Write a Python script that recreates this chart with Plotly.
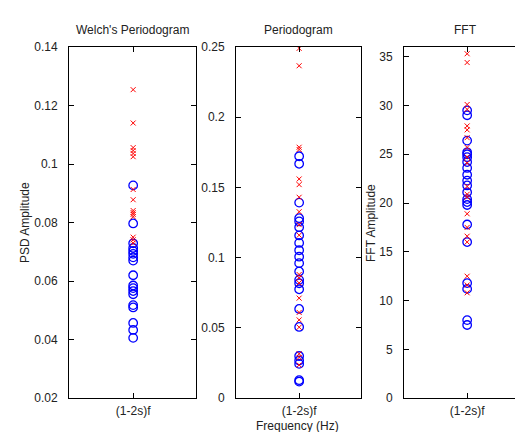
import plotly.graph_objects as go

category = ["(1-2s)f"]

# Welch's Periodogram
welch_red = [0.1254, 0.1140, 0.1056, 0.1046, 0.1036, 0.1025, 0.0913, 0.0878,
             0.0841, 0.0834, 0.0828, 0.0820, 0.0750, 0.0741, 0.0730]
welch_blue = [0.0927, 0.0797, 0.0729, 0.0713, 0.0703, 0.0693, 0.0681, 0.0670,
              0.0620, 0.0585, 0.0576, 0.0566, 0.0555, 0.0518, 0.0510, 0.0457,
              0.0433, 0.0406]

# Periodogram
period_red = [0.2490, 0.2366, 0.1786, 0.1770, 0.1560, 0.1520, 0.1430, 0.1327,
              0.1235, 0.1160, 0.0880, 0.0855, 0.0820, 0.0712, 0.0610, 0.0557,
              0.0505, 0.0316, 0.0290, 0.0236]
period_blue = [0.1722, 0.1668, 0.1392, 0.1281, 0.1258, 0.1217, 0.1158, 0.1105,
               0.1053, 0.1007, 0.0961, 0.0902, 0.0842, 0.0818, 0.0775, 0.0635,
               0.0507, 0.0300, 0.0268, 0.0244, 0.0128, 0.0118]

# FFT
fft_red = [35.3, 34.4, 30.1, 29.6, 27.9, 27.5, 26.7, 25.7, 24.7, 24.1, 21.7,
           20.9, 20.6, 18.9, 17.5, 16.6, 16.0, 12.5, 11.6, 10.8]
fft_blue = [29.5, 29.0, 26.4, 25.2, 25.0, 24.7, 24.2, 23.6, 22.9, 22.3, 21.8,
            21.1, 20.4, 20.1, 19.8, 17.8, 16.0, 11.8, 11.2, 8.0, 7.5]

welch_ticks = [0.02, 0.04, 0.06, 0.08, 0.1, 0.12, 0.14]
period_ticks = [0, 0.05, 0.1, 0.15, 0.2, 0.25]
fft_ticks = [0, 5, 10, 15, 20, 25, 30, 35]

panels = [
    ("x", "y", welch_blue, welch_red),
    ("x2", "y2", period_blue, period_red),
    ("x3", "y3", fft_blue, fft_red),
]

fig = go.Figure()
for xa, ya, blue, red in panels:
    fig.add_trace(go.Scatter(
        x=category * len(blue), y=blue, xaxis=xa, yaxis=ya, mode="markers",
        marker=dict(symbol="circle-open", size=8.5, color="blue",
                    line=dict(width=1.3, color="blue")),
        showlegend=False, hoverinfo="y"))
    fig.add_trace(go.Scatter(
        x=category * len(red), y=red, xaxis=xa, yaxis=ya, mode="markers",
        marker=dict(symbol="x-thin-open", size=5, color="red",
                    line=dict(width=1, color="red")),
        showlegend=False, hoverinfo="y"))

W, H = 523, 432
font = dict(family="Liberation Sans, Arial, sans-serif", size=12, color="#222")
y_dom = [36 / H, 399 / H]
x_doms = [[61 / W, 188 / W], [228 / W, 353 / W], [396 / W, 521 / W]]

axis_common = dict(showline=True, linecolor="black", linewidth=1, mirror="ticks",
                   ticks="inside", ticklen=5, tickcolor="black", showgrid=False,
                   zeroline=False, tickfont=font)

layout = dict(
    width=W, height=H, margin=dict(l=0, r=0, t=0, b=0),
    paper_bgcolor="white", plot_bgcolor="white", font=font,
)
yspecs = [([0.02, 0.14], welch_ticks), ([0, 0.25], period_ticks), ([0, 36], fft_ticks)]
for i, (xd, (rng, tv)) in enumerate(zip(x_doms, yspecs)):
    sfx = "" if i == 0 else str(i + 1)
    layout["xaxis" + sfx] = dict(axis_common, domain=xd, anchor="y" + sfx,
                                 type="category", range=[-0.97, 0.95],
                                 ticklabelstandoff=1)
    layout["yaxis" + sfx] = dict(axis_common, domain=y_dom, anchor="x" + sfx,
                                 range=rng, tickvals=tv,
                                 ticktext=[("%g" % v) for v in tv],
                                 ticklabelstandoff=8)

fig.update_layout(**layout)

annots = [
    dict(text="Welch's Periodogram", x=124 / W, y=1 - 15 / H),
    dict(text="Periodogram", x=290 / W, y=1 - 15 / H),
    dict(text="FFT", x=457 / W, y=1 - 15 / H),
    dict(text="Frequency (Hz)", x=289 / W, y=1 - 425 / H),
    dict(text="PSD Amplitude", x=17 / W, y=1 - 215 / H, textangle=-90),
    dict(text="FFT Amplitude", x=363 / W, y=1 - 215 / H, textangle=-90),
]
for a in annots:
    fig.add_annotation(xref="paper", yref="paper", showarrow=False,
                       xanchor="center", yanchor="middle", font=font, **a)

fig.write_html("out.html")
